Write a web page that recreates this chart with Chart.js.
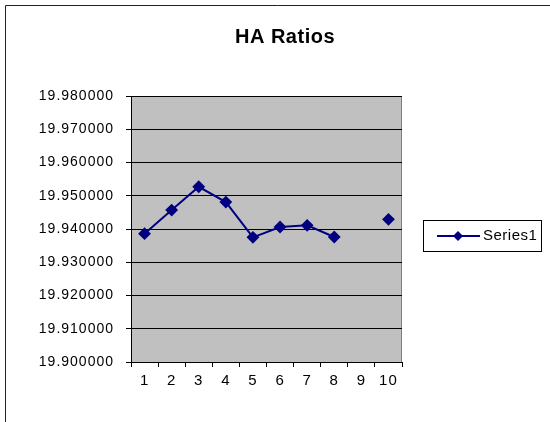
<!DOCTYPE html>
<html>
<head>
<meta charset="utf-8">
<script src="https://cdn.jsdelivr.net/npm/chart.js@4"></script>
<style>
  html, body { margin: 0; padding: 0; background: #fff; }
  #wrap { width: 550px; height: 422px; position: relative; }
</style>
</head>
<body>
<div id="wrap"><canvas id="chart" width="550" height="422"></canvas></div>
<script>
var categories = ["1", "2", "3", "4", "5", "6", "7", "8", "9", "10"];
var series1 = [19.9386, 19.9457, 19.9527, 19.9481, 19.9375, 19.9406, 19.9411, 19.9376, null, 19.9429];
var yMin = 19.90, yMax = 19.98, yStep = 0.01;

var navy = "#000080";
var font = "'Liberation Sans', Arial, sans-serif";

// gray plot area, outer frame, title and boxed legend
var excelLook = {
  id: "excelLook",
  beforeDraw: function(chart) {
    var ctx = chart.ctx, a = chart.chartArea;
    ctx.letterSpacing = "1px";
    ctx.save();
    ctx.fillStyle = "#c0c0c0";
    ctx.fillRect(a.left, a.top, a.right - a.left, a.bottom - a.top);
    ctx.strokeStyle = "#808080";
    ctx.lineWidth = 1;
    ctx.strokeRect(a.left + 0.5, a.top + 0.5, a.right - a.left - 1, a.bottom - a.top);
    ctx.restore();
  },
  afterDraw: function(chart) {
    var ctx = chart.ctx;
    ctx.save();
    // outer frame (right/bottom are cut off)
    ctx.strokeStyle = "#222";
    ctx.lineWidth = 1;
    ctx.beginPath();
    ctx.moveTo(5.5, 422);
    ctx.lineTo(5.5, 5.5);
    ctx.lineTo(550, 5.5);
    ctx.stroke();

    // title
    ctx.letterSpacing = "0.5px";
    ctx.fillStyle = "#000";
    ctx.font = "bold 20px " + font;
    ctx.textAlign = "center";
    ctx.textBaseline = "middle";
    ctx.fillText("HA Ratios", 285, 37);

    // legend
    var ds = chart.data.datasets[0];
    ctx.letterSpacing = "0.5px";
    ctx.strokeStyle = "#000";
    ctx.strokeRect(423.5, 220.5, 118, 31);
    ctx.strokeStyle = ds.borderColor;
    ctx.lineWidth = 2;
    ctx.beginPath();
    ctx.moveTo(437, 236);
    ctx.lineTo(480, 236);
    ctx.stroke();
    ctx.fillStyle = ds.borderColor;
    ctx.beginPath();
    ctx.moveTo(458, 231);
    ctx.lineTo(463, 236);
    ctx.lineTo(458, 241);
    ctx.lineTo(453, 236);
    ctx.closePath();
    ctx.fill();
    ctx.fillStyle = "#000";
    ctx.font = "15px " + font;
    ctx.textAlign = "left";
    ctx.fillText(ds.label, 483, 236);
    ctx.restore();
  }
};

new Chart(document.getElementById("chart").getContext("2d"), {
  type: "line",
  data: {
    labels: categories,
    datasets: [{
      label: "Series1",
      data: series1,
      borderColor: navy,
      backgroundColor: navy,
      borderWidth: 2,
      pointStyle: "rectRot",
      pointRadius: 5,
      pointHoverRadius: 5,
      spanGaps: false,
      tension: 0
    }]
  },
  options: {
    responsive: false,
    animation: false,
    events: [],
    layout: { padding: { left: 0, top: 96, right: 148, bottom: 0 } },
    plugins: {
      legend: { display: false },
      title: { display: false },
      tooltip: { enabled: false }
    },
    scales: {
      x: {
        type: "category",
        offset: true,
        afterFit: function(s) { s.height = 60; },
        grid: { offset: true, drawOnChartArea: false, drawTicks: true, tickLength: 5, color: "#000" },
        border: { color: "#000", width: 1 },
        ticks: { color: "#000", padding: 5, maxRotation: 0, autoSkip: false, font: { family: font, size: 15 } }
      },
      y: {
        min: yMin,
        max: yMax,
        afterFit: function(s) { s.width = 131; },
        grid: { color: "#000", tickLength: 5 },
        border: { color: "#000", width: 1 },
        ticks: {
          stepSize: yStep,
          color: "#000",
          padding: 12,
          font: { family: font, size: 14 },
          callback: function(v) { return Number(v).toFixed(6); }
        }
      }
    }
  },
  plugins: [excelLook]
});
</script>
</body>
</html>
